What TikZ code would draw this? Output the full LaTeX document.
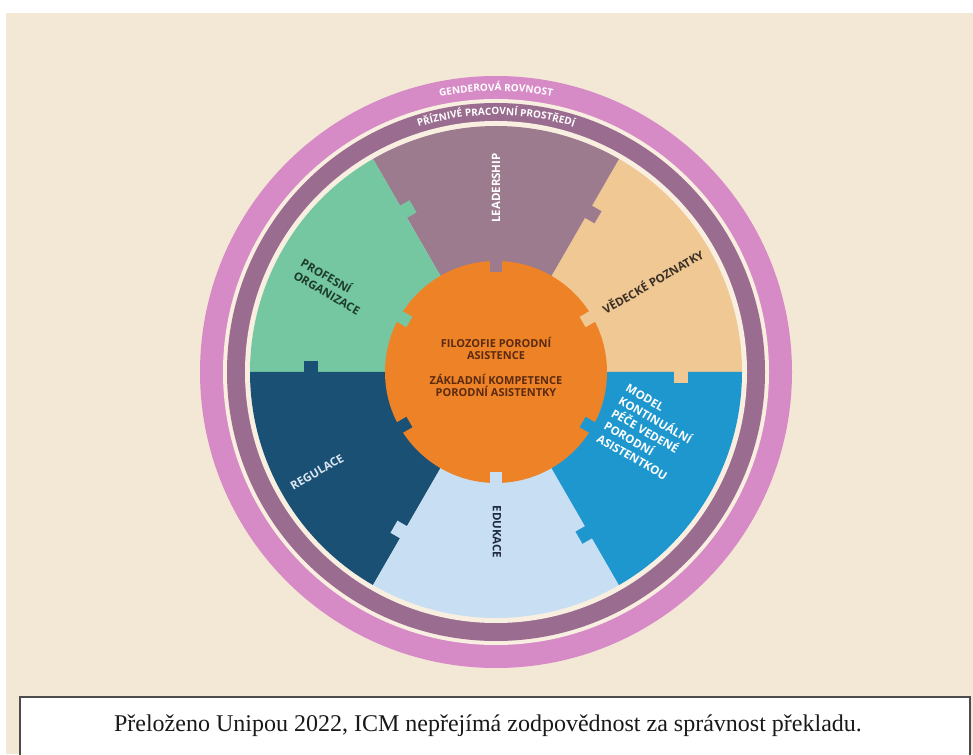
\documentclass[tikz,border=0pt]{standalone}
\usepackage{fontspec}
\setmainfont{Liberation Serif}
\setsansfont{Open Sans}
\usetikzlibrary{decorations.text}

\definecolor{pagebg}{HTML}{F3E7D6}
\definecolor{gapbg}{HTML}{F8EFE1}
\definecolor{ringpink}{HTML}{D78BC6}
\definecolor{ringpurple}{HTML}{9A6C8F}
\definecolor{leadc}{HTML}{9C7B8F}
\definecolor{vedc}{HTML}{EFC894}
\definecolor{modelc}{HTML}{1E97CF}
\definecolor{educ}{HTML}{C8DEF3}
\definecolor{regc}{HTML}{1B5075}
\definecolor{profc}{HTML}{74C7A1}
\definecolor{corec}{HTML}{EE8226}
\definecolor{coretext}{HTML}{5B2A12}
\definecolor{darktext}{HTML}{3A2F25}
\definecolor{edutext}{HTML}{1F2A44}
\definecolor{proftext}{HTML}{1E3B2C}
\definecolor{regtext}{HTML}{DCE6F2}

\newcommand\ringfont{\sffamily\bfseries\fontsize{10}{10}\selectfont}

\begin{document}
\begin{tikzpicture}[x=1pt, y=1pt,
		sectlab/.style={font=\sffamily\bfseries\fontsize{11.5}{14.5}\selectfont, inner sep=0pt},
		corelab/.style={font=\sffamily\bfseries\fontsize{11}{12.5}\selectfont, text=coretext, align=center, inner sep=0pt}]
		\useasboundingbox (-496,-382) rectangle (477,372);
		\fill[white] (-496,-382) rectangle (477,372);
		\fill[pagebg] (-490,-382) rectangle (477,359);
		
		\fill[ringpink] (0,0) circle (296);
		\fill[gapbg] (0,0) circle (273);
		\fill[ringpurple] (0,0) circle (269);
		\fill[gapbg] (0,0) circle (251);
		
		\foreach \a/\c in {0/vedc, 60/leadc, 120/profc, 180/regc, 240/educ, 300/modelc} {
			\fill[\c] (0,0) -- (\a:246) arc[start angle=\a, end angle=\a+60, radius=246] -- cycle;
		}
		\foreach \a/\c in {0/vedc, 60/leadc, 120/profc, 180/regc, 240/educ, 300/modelc} {
			\fill[\c, rotate=\a] (178,1) rectangle (192,-11);
		}
		
		\fill[corec] (0,0) circle (111);
		\foreach \a/\c in {0/vedc, 60/leadc, 120/profc, 180/regc, 240/educ, 300/modelc} {
			\fill[\c, rotate=\a+30] (100,-6) rectangle (112,6);
		}
		
		\path[decorate, decoration={text along path, text={|\ringfont|GENDEROVÁ ROVNOST}, text align=center, text color=white}]
			(150:281) arc[start angle=150, end angle=30, radius=281];
		\path[decorate, decoration={text along path, text={|\ringfont|PŘÍZNIVÉ PRACOVNÍ PROSTŘEDÍ}, text align=center, text color=white}]
			(150:257) arc[start angle=150, end angle=30, radius=257];
		
		\node[sectlab, text=white, rotate=90] (lead) at (90:184) {LEADERSHIP};
		\node[sectlab, text=darktext, rotate=30] (ved) at (30:181) {VĚDECKÉ POZNATKY};
		\node[sectlab, text=white, rotate=-30, align=left] (model) at (152,-61) {MODEL\\KONTINUÁLNÍ\\PÉČE VEDENÉ\\PORODNÍ\\ASISTENTKOU};
		\node[sectlab, text=edutext, rotate=-90] (edu) at (1,-160) {EDUKACE};
		\node[sectlab, text=regtext, rotate=30] (reg) at (-179,-100) {REGULACE};
		\node[sectlab, text=proftext, rotate=-30, align=left] (prof) at (-165,86) {PROFESNÍ\\ORGANIZACE};
		\node[corelab] (core) at (0,5) {FILOZOFIE PORODNÍ\\ASISTENCE\\[12pt]ZÁKLADNÍ KOMPETENCE\\PORODNÍ ASISTENTKY};
		
		\draw[line width=1.5, draw=black!70, fill=white] (-476,-325) rectangle (474,-395);
		\node[font=\fontsize{24}{28}\selectfont, text=black!90] (note) at (-8,-354) {Přeloženo Unipou 2022, ICM nepřejímá zodpovědnost za správnost překladu.};
\end{tikzpicture}
\end{document}
